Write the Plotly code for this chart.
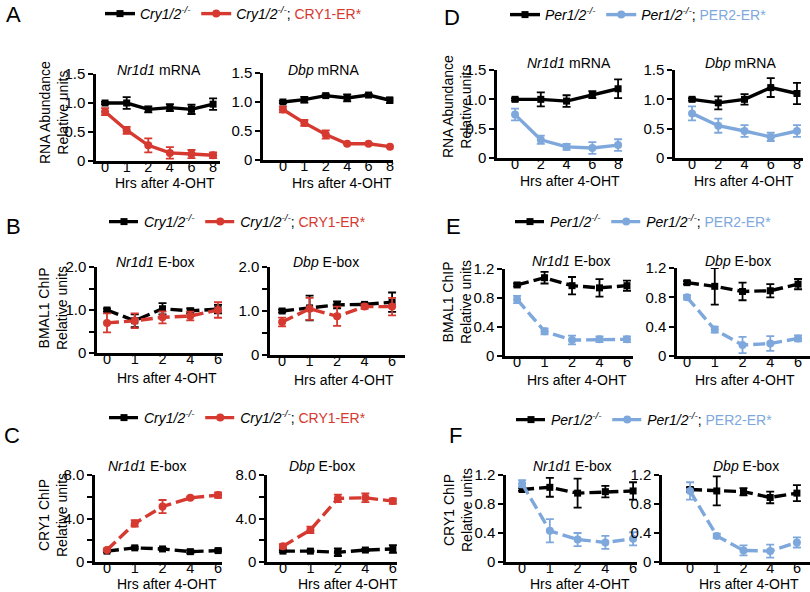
import plotly.graph_objects as go

W, H = 810, 592
FONT = "Liberation Sans, Arial, Helvetica, sans-serif"
BLACK = "#000000"
RED = "#d5392f"
BLUE = "#7ea8dc"

# ---------------- data ----------------
hrs_rna_cry = ["0", "1", "2", "4", "6", "8"]
hrs_rna_per = ["0", "2", "4", "6", "8"]
hrs_chip = ["0", "1", "2", "4", "6"]

# A: RNA abundance, Cry1/2-/- vs CRY1-ER*
a_nr1d1_ko = [1.00, 1.00, 0.89, 0.92, 0.89, 0.98]
a_nr1d1_ko_err = [0.02, 0.10, 0.05, 0.06, 0.08, 0.10]
a_nr1d1_tg = [0.85, 0.53, 0.27, 0.14, 0.12, 0.10]
a_nr1d1_tg_err = [0.06, 0.06, 0.12, 0.10, 0.07, 0.05]
a_dbp_ko = [1.00, 1.04, 1.11, 1.07, 1.12, 1.03]
a_dbp_ko_err = [0.02, 0.05, 0.02, 0.06, 0.02, 0.05]
a_dbp_tg = [0.87, 0.64, 0.44, 0.28, 0.28, 0.23]
a_dbp_tg_err = [0.05, 0.05, 0.07, 0.01, 0.01, 0.01]

# D: RNA abundance, Per1/2-/- vs PER2-ER*
d_nr1d1_ko = [1.00, 1.00, 0.97, 1.08, 1.18]
d_nr1d1_ko_err = [0.02, 0.12, 0.10, 0.06, 0.16]
d_nr1d1_tg = [0.74, 0.31, 0.19, 0.17, 0.22]
d_nr1d1_tg_err = [0.10, 0.07, 0.05, 0.10, 0.10]
d_dbp_ko = [1.00, 0.94, 1.00, 1.20, 1.10]
d_dbp_ko_err = [0.02, 0.11, 0.09, 0.16, 0.18]
d_dbp_tg = [0.76, 0.55, 0.46, 0.36, 0.46]
d_dbp_tg_err = [0.12, 0.12, 0.10, 0.07, 0.10]

# B: BMAL1 ChIP, Cry1/2-/- vs CRY1-ER*
b_nr1d1_ko = [1.00, 0.75, 1.03, 0.98, 1.02]
b_nr1d1_ko_err = [0.03, 0.15, 0.13, 0.06, 0.10]
b_nr1d1_tg = [0.70, 0.75, 0.83, 0.86, 1.00]
b_nr1d1_tg_err = [0.22, 0.17, 0.14, 0.10, 0.18]
b_dbp_ko = [1.00, 1.07, 1.14, 1.15, 1.20]
b_dbp_ko_err = [0.03, 0.28, 0.08, 0.03, 0.22]
b_dbp_tg = [0.75, 1.05, 0.88, 1.10, 1.10]
b_dbp_tg_err = [0.10, 0.25, 0.22, 0.05, 0.20]

# C: CRY1 ChIP, Cry1/2-/- vs CRY1-ER*
c_nr1d1_ko = [1.00, 1.30, 1.20, 0.95, 1.05]
c_nr1d1_ko_err = [0.10, 0.10, 0.10, 0.15, 0.10]
c_nr1d1_tg = [1.10, 3.55, 5.10, 5.90, 6.15]
c_nr1d1_tg_err = [0.10, 0.30, 0.60, 0.10, 0.25]
c_dbp_ko = [1.00, 1.00, 0.90, 1.10, 1.20]
c_dbp_ko_err = [0.10, 0.05, 0.35, 0.10, 0.35]
c_dbp_tg = [1.45, 2.95, 5.85, 5.90, 5.60]
c_dbp_tg_err = [0.20, 0.30, 0.35, 0.40, 0.25]

# E: BMAL1 ChIP, Per1/2-/- vs PER2-ER*
e_nr1d1_ko = [0.98, 1.08, 0.97, 0.94, 0.97]
e_nr1d1_ko_err = [0.02, 0.08, 0.12, 0.12, 0.07]
e_nr1d1_tg = [0.78, 0.34, 0.22, 0.23, 0.23]
e_nr1d1_tg_err = [0.05, 0.04, 0.06, 0.04, 0.04]
e_dbp_ko = [1.00, 0.95, 0.88, 0.89, 0.98]
e_dbp_ko_err = [0.02, 0.25, 0.12, 0.09, 0.07]
e_dbp_tg = [0.80, 0.36, 0.15, 0.17, 0.24]
e_dbp_tg_err = [0.03, 0.04, 0.11, 0.10, 0.04]

# F: CRY1 ChIP, Per1/2-/- vs PER2-ER*
f_nr1d1_ko = [1.00, 1.03, 0.95, 0.97, 0.98]
f_nr1d1_ko_err = [0.02, 0.13, 0.20, 0.08, 0.12]
f_nr1d1_tg = [1.08, 0.43, 0.31, 0.27, 0.32]
f_nr1d1_tg_err = [0.05, 0.16, 0.09, 0.09, 0.09]
f_dbp_ko = [1.00, 0.98, 0.97, 0.89, 0.95]
f_dbp_ko_err = [0.03, 0.20, 0.05, 0.08, 0.11]
f_dbp_tg = [0.98, 0.36, 0.16, 0.15, 0.27]
f_dbp_tg_err = [0.12, 0.03, 0.07, 0.09, 0.07]

# labels
cry_ko_name = "<i>Cry1/2</i><sup><i>-/-</i></sup>"
cry_tg_name = "<i>Cry1/2</i><sup><i>-/-</i></sup>; <span style='color:%s'>CRY1-ER*</span>" % RED
per_ko_name = "<i>Per1/2</i><sup><i>-/-</i></sup>"
per_tg_name = "<i>Per1/2</i><sup><i>-/-</i></sup>; <span style='color:%s'>PER2-ER*</span>" % BLUE

ticks_rna = ([0, 0.5, 1.0, 1.5], ["0", "0.5", "1.0", "1.5"])
ticks_b = ([0, 0.5, 1.0, 1.5, 2.0], ["0", "", "1.0", "", "2.0"])
ticks_c = ([0, 2, 4, 6, 8], ["0", "", "4.0", "", "8.0"])
ticks_ef = ([0, 0.4, 0.8, 1.2], ["0", "0.4", "0.8", "1.2"])

# ---------------- panel layout (pixel geometry) ----------------
panels = [
    # row A / D
    dict(x=hrs_rna_cry, ko=a_nr1d1_ko, koe=a_nr1d1_ko_err, tg=a_nr1d1_tg, tge=a_nr1d1_tg_err,
         col=RED, dash="solid", px=(96, 220), py=(161, 74), xr=(-0.42, 5.32), yr=(0, 1.5), ticks=ticks_rna,
         title="<i>Nr1d1</i> mRNA", tpos=(159, 70), xt=(165, 183), leg="legend", names=(cry_ko_name, cry_tg_name)),
    dict(x=hrs_rna_cry, ko=a_dbp_ko, koe=a_dbp_ko_err, tg=a_dbp_tg, tge=a_dbp_tg_err,
         col=RED, dash="solid", px=(263, 393), py=(160, 73), xr=(-0.93, 5.14), yr=(0, 1.5), ticks=ticks_rna,
         title="<i>Dbp</i> mRNA", tpos=(323, 70), xt=(342, 183), leg=None, names=(cry_ko_name, cry_tg_name)),
    dict(x=hrs_rna_per, ko=d_nr1d1_ko, koe=d_nr1d1_ko_err, tg=d_nr1d1_tg, tge=d_nr1d1_tg_err,
         col=BLUE, dash="solid", px=(497, 623), py=(158, 70), xr=(-0.70, 4.19), yr=(0, 1.5), ticks=ticks_rna,
         title="<i>Nr1d1</i> mRNA", tpos=(569, 63), xt=(570, 181), leg="legend2", names=(per_ko_name, per_tg_name)),
    dict(x=hrs_rna_per, ko=d_dbp_ko, koe=d_dbp_ko_err, tg=d_dbp_tg, tge=d_dbp_tg_err,
         col=BLUE, dash="solid", px=(675, 803), py=(158, 70), xr=(-0.65, 4.23), yr=(0, 1.5), ticks=ticks_rna,
         title="<i>Dbp</i> mRNA", tpos=(740, 63), xt=(744, 181), leg=None, names=(per_ko_name, per_tg_name)),
    # row B / E
    dict(x=hrs_chip, ko=b_nr1d1_ko, koe=b_nr1d1_ko_err, tg=b_nr1d1_tg, tge=b_nr1d1_tg_err,
         col=RED, dash="12px,5px", px=(97, 223), py=(353, 267), xr=(-0.36, 4.18), yr=(0, 2.0), ticks=ticks_b,
         title="<i>Nr1d1</i> E-box", tpos=(155, 262), xt=(167, 378), leg="legend3", names=(cry_ko_name, cry_tg_name)),
    dict(x=hrs_chip, ko=b_dbp_ko, koe=b_dbp_ko_err, tg=b_dbp_tg, tge=b_dbp_tg_err,
         col=RED, dash="12px,5px", px=(270, 405), py=(355, 267), xr=(-0.44, 4.47), yr=(0, 2.0), ticks=ticks_b,
         title="<i>Dbp</i> E-box", tpos=(326, 262), xt=(344, 380), leg=None, names=(cry_ko_name, cry_tg_name)),
    dict(x=hrs_chip, ko=e_nr1d1_ko, koe=e_nr1d1_ko_err, tg=e_nr1d1_tg, tge=e_nr1d1_tg_err,
         col=BLUE, dash="12px,5px", px=(505, 633), py=(356, 269), xr=(-0.44, 4.22), yr=(0, 1.2), ticks=ticks_ef,
         title="<i>Nr1d1</i> E-box", tpos=(571, 261), xt=(577, 380), leg="legend4", names=(per_ko_name, per_tg_name)),
    dict(x=hrs_chip, ko=e_dbp_ko, koe=e_dbp_ko_err, tg=e_dbp_tg, tge=e_dbp_tg_err,
         col=BLUE, dash="12px,5px", px=(677, 810), py=(356, 268), xr=(-0.36, 4.43), yr=(0, 1.2), ticks=ticks_ef,
         title="<i>Dbp</i> E-box", tpos=(738, 261), xt=(745, 380), leg=None, names=(per_ko_name, per_tg_name)),
    # row C / F
    dict(x=hrs_chip, ko=c_nr1d1_ko, koe=c_nr1d1_ko_err, tg=c_nr1d1_tg, tge=c_nr1d1_tg_err,
         col=RED, dash="12px,5px", px=(95, 222), py=(562, 475), xr=(-0.43, 4.14), yr=(0, 8.0), ticks=ticks_c,
         title="<i>Nr1d1</i> E-box", tpos=(147, 466), xt=(167, 584), leg="legend5", names=(cry_ko_name, cry_tg_name)),
    dict(x=hrs_chip, ko=c_dbp_ko, koe=c_dbp_ko_err, tg=c_dbp_tg, tge=c_dbp_tg_err,
         col=RED, dash="12px,5px", px=(267, 397), py=(562, 475), xr=(-0.58, 4.15), yr=(0, 8.0), ticks=ticks_c,
         title="<i>Dbp</i> E-box", tpos=(322, 466), xt=(348, 584), leg=None, names=(cry_ko_name, cry_tg_name)),
    dict(x=hrs_chip, ko=f_nr1d1_ko, koe=f_nr1d1_ko_err, tg=f_nr1d1_tg, tge=f_nr1d1_tg_err,
         col=BLUE, dash="12px,5px", px=(506, 637), py=(562, 475), xr=(-0.58, 4.14), yr=(0, 1.2), ticks=ticks_ef,
         title="<i>Nr1d1</i> E-box", tpos=(572, 466), xt=(580, 584), leg="legend6", names=(per_ko_name, per_tg_name)),
    dict(x=hrs_chip, ko=f_dbp_ko, koe=f_dbp_ko_err, tg=f_dbp_tg, tge=f_dbp_tg_err,
         col=BLUE, dash="12px,5px", px=(662, 810), py=(562, 475), xr=(-1.05, 4.49), yr=(0, 1.2), ticks=ticks_ef,
         title="<i>Dbp</i> E-box", tpos=(746, 466), xt=(749, 584), leg=None, names=(per_ko_name, per_tg_name)),
]

fig = go.Figure()
layout = dict(
    width=W, height=H, margin=dict(l=0, r=0, t=0, b=0, autoexpand=False),
    paper_bgcolor="white", plot_bgcolor="white",
    font=dict(family=FONT, color="black", size=14),
)
annotations = []

for i, p in enumerate(panels, start=1):
    xa = "x" if i == 1 else "x%d" % i
    ya = "y" if i == 1 else "y%d" % i
    xkey = "xaxis" if i == 1 else "xaxis%d" % i
    ykey = "yaxis" if i == 1 else "yaxis%d" % i
    for vals, errs, color, sym, name in [
        (p["ko"], p["koe"], BLACK, "square", p["names"][0]),
        (p["tg"], p["tge"], p["col"], "circle", p["names"][1]),
    ]:
        fig.add_trace(go.Scatter(
            x=p["x"], y=vals, name=name, mode="lines+markers",
            line=dict(color=color, width=3.4, dash=p["dash"]),
            marker=dict(symbol=sym, size=7 if sym == "square" else 8, color=color),
            error_y=dict(type="data", array=errs, visible=True, color=color, thickness=1.8, width=4),
            xaxis=xa, yaxis=ya, cliponaxis=False,
            showlegend=p["leg"] is not None,
            legend=p["leg"] if p["leg"] else "legend",
        ))
    layout[xkey] = dict(
        domain=[p["px"][0] / W, p["px"][1] / W], anchor=ya, type="category",
        range=list(p["xr"]), showline=True, linecolor="black", linewidth=2.5,
        ticks="", showgrid=False, zeroline=False, tickfont=dict(size=14.5),
        ticklabelstandoff=-9,
        fixedrange=True, automargin=False,
    )
    layout[ykey] = dict(
        domain=[1 - p["py"][0] / H, 1 - p["py"][1] / H], anchor=xa,
        range=list(p["yr"]), showline=True, linecolor="black", linewidth=2.5,
        ticks="outside", ticklen=5, tickwidth=2, tickcolor="black",
        tickvals=p["ticks"][0], ticktext=p["ticks"][1], tickfont=dict(size=15),
        showgrid=False, zeroline=False, fixedrange=True, automargin=False,
    )
    annotations.append(dict(text=p["title"], x=p["tpos"][0] / W, y=1 - p["tpos"][1] / H,
                            xref="paper", yref="paper", showarrow=False,
                            xanchor="center", yanchor="middle", font=dict(size=14)))
    annotations.append(dict(text="Hrs after 4-OHT", x=p["xt"][0] / W, y=1 - p["xt"][1] / H,
                            xref="paper", yref="paper", showarrow=False,
                            xanchor="center", yanchor="middle", font=dict(size=14)))

# y axis titles
ytitles = [
    ("RNA Abundance<br>Relative units", 54, 113),
    ("RNA Abundance<br>Relative units", 457, 107),
    ("BMAL1 ChIP<br>Relative units", 53, 308),
    ("BMAL1 ChIP<br>Relative units", 457, 302),
    ("CRY1 ChIP<br>Relative units", 53, 515),
    ("CRY1 ChIP<br>Relative units", 458, 510),
]
for t, x, y in ytitles:
    annotations.append(dict(text=t, x=x / W, y=1 - y / H, xref="paper", yref="paper",
                            showarrow=False, textangle=-90, xanchor="center", yanchor="middle",
                            font=dict(size=14)))

# panel letters
letters = [("A", 14, 15), ("D", 452, 17), ("B", 14, 226), ("E", 453, 226), ("C", 12, 435), ("F", 455, 435)]
for t, x, y in letters:
    annotations.append(dict(text=t, x=x / W, y=1 - y / H, xref="paper", yref="paper",
                            showarrow=False, xanchor="center", yanchor="middle", font=dict(size=22)))

layout["annotations"] = annotations

# legends
legpos = {"legend": (100, 14), "legend2": (505, 15), "legend3": (104, 222),
          "legend4": (510, 222), "legend5": (104, 418), "legend6": (511, 420)}
for k, (x, y) in legpos.items():
    layout[k] = dict(x=x / W, y=1 - y / H, xanchor="left", yanchor="middle",
                     orientation="h", bgcolor="rgba(0,0,0,0)", font=dict(size=14),
                     itemwidth=30, tracegroupgap=0)

fig.update_layout(**layout)
fig.write_html(
    "out.html",
    config={"displayModeBar": False},
    post_script="document.body.style.margin='0';document.body.style.padding='0';"
                "document.documentElement.style.overflow='hidden';",
)
